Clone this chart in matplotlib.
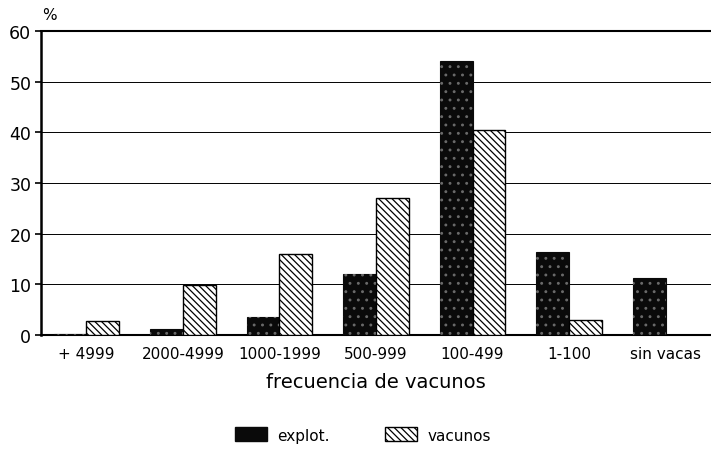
import matplotlib
matplotlib.use("Agg")
import matplotlib.pyplot as plt
import numpy as np
from matplotlib.patches import Patch

categories = ["+ 4999", "2000-4999", "1000-1999", "500-999", "100-499", "1-100", "sin vacas"]
explot = [0.1, 1.2, 3.5, 12.0, 54.0, 16.3, 11.3]
vacunos = [2.8, 9.8, 16.0, 27.0, 40.5, 3.0, 0.0]
yticks = [0, 10, 20, 30, 40, 50, 60]

plt.rcParams['hatch.linewidth'] = 0.9
fig = plt.figure(figsize=(7.11, 4.52), dpi=100)
ax = fig.add_axes([41/711, 1-336/452, 1-41/711, (336-32)/452])

x = np.arange(len(categories))
w = 0.34
offset = 0.17

# explot: black with light speckles
ax.bar(x - offset, explot, w, color="#0a0a0a", edgecolor="#0a0a0a", lw=0.8, zorder=3)
ax.bar(x - offset, explot, w, color="none", edgecolor="#6a6a6a", hatch="..", lw=0, zorder=4)
# vacunos: diagonal hatch
ax.bar(x + offset, vacunos, w, color="white", edgecolor="black", hatch="\\\\\\\\\\", lw=1.0, zorder=3)

ax.set_xlim(-0.47, 6.47)
ax.set_ylim(0, 60)
ax.set_yticks(yticks)
ax.set_yticklabels([str(v) for v in yticks], fontsize=12.5)
ax.set_xticks(x)
ax.set_xticklabels(categories, fontsize=11)
ax.tick_params(axis='x', length=0, pad=8)
ax.tick_params(axis='y', length=4, width=1.2, pad=3)

ax.grid(axis='y', color='black', lw=0.7, ls='-', zorder=0)
ax.spines['right'].set_visible(False)
ax.spines['left'].set_linewidth(1.8)
ax.spines['bottom'].set_linewidth(1.5)
ax.spines['top'].set_linewidth(1.5)

ax.set_xlabel("frecuencia de vacunos", fontsize=14, labelpad=8)
fig.text(42/711, 1-16/452, "%", fontsize=11, ha='left', va='center')

h1 = Patch(facecolor="#0a0a0a", edgecolor="#0a0a0a", label="explot.")
h2 = Patch(facecolor="white", edgecolor="black", hatch="\\\\\\\\\\", label="vacunos")
fig.legend(handles=[h1, h2], loc='center', bbox_to_anchor=(363/711, 1-436/452), ncol=2,
           frameon=False, fontsize=11, handlelength=2.1, handleheight=1.0,
           columnspacing=3.6, handletextpad=0.7)

fig.savefig("out.png", dpi=100)
